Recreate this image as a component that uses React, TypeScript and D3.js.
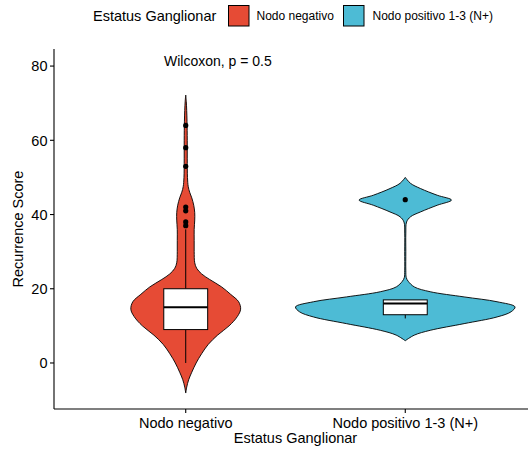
import React from "react";
import * as d3 from "d3";

// Groups and palette
const groups = ["Nodo negativo", "Nodo positivo 1-3 (N+)"];
const fills = ["#E64B35", "#4DBBD5"];
const yTicks = [0, 20, 40, 60, 80];

// Kernel density profiles (score, relative density; 1 = widest violin)
const negScores = [-8.1, -6.5, -4.5, -2.5, 0, 2.5, 5, 7.5, 10, 12.5, 14.5, 16.5, 18.5, 20.5, 22.5, 24, 25.5, 27, 30, 33, 36, 38.5, 40.5, 42.5, 44.5, 46, 47.5, 50, 55, 60, 65, 68, 70.5, 72.2];
const negDensity = [0, 0.009, 0.027, 0.055, 0.095, 0.145, 0.205, 0.29, 0.395, 0.47, 0.5, 0.482, 0.409, 0.327, 0.218, 0.145, 0.1, 0.082, 0.077, 0.077, 0.077, 0.082, 0.082, 0.073, 0.055, 0.036, 0.023, 0.016, 0.014, 0.014, 0.012, 0.009, 0.005, 0];
const posScores = [6.0, 7.5, 8.8, 10.6, 12.4, 13.8, 15.1, 16.5, 17.8, 19.2, 20.5, 22.0, 23.0, 25, 30, 35, 38.0, 39.4, 40.7, 42.5, 43.9, 45.2, 47.0, 48.4, 50.0];
const posDensity = [0, 0.082, 0.227, 0.536, 0.836, 0.964, 1, 0.836, 0.536, 0.227, 0.082, 0.027, 0.009, 0.005, 0.005, 0.005, 0.012, 0.048, 0.139, 0.291, 0.421, 0.291, 0.139, 0.048, 0];

// Box plot summaries per group
const q1 = [9, 13];
const median = [15, 16];
const q3 = [20, 17];
const whiskerLow = [0, 12];
const whiskerHigh = [36, 17];
const negOutliers = [37, 38, 41, 42, 53, 58, 64];
const posOutliers = [44];

const W = 528;
const H = 450;
const FONT = "'Liberation Sans', Arial, Helvetica, sans-serif";

export default function App() {
  const panelLeft = 54;
  const panelRight = 537;
  const panelTop = 49;
  const panelBottom = 409;

  const x = d3.scaleLinear().domain([0.4, 2.6]).range([panelLeft, panelRight]);
  const y = d3.scaleLinear().domain([-12.4, 84.6]).range([panelBottom, panelTop]);
  const step = x(2) - x(1);
  const halfWidth = d3.scaleLinear().domain([0, 1]).range([0, step * 0.5]);
  const boxHalf = step * 0.1;

  const profiles = [
    negScores.map((v, i) => ({ v, d: negDensity[i] })),
    posScores.map((v, i) => ({ v, d: posDensity[i] })),
  ];
  const outliers = [negOutliers, posOutliers];

  const violin = (cx: number) =>
    d3
      .area<{ v: number; d: number }>()
      .y((p) => y(p.v))
      .x0((p) => cx - halfWidth(p.d))
      .x1((p) => cx + halfWidth(p.d))
      .curve(d3.curveCatmullRom.alpha(0.5));

  return (
    <svg
      width={W}
      height={H}
      style={{ position: "absolute", left: 0, top: 0, background: "#fff" }}
      fontFamily={FONT}
    >
      {/* legend */}
      <text x={93} y={21} fontSize={14.5} fill="#000">
        Estatus Ganglionar
      </text>
      {groups.map((g, i) => {
        const kx = [228.5, 343.5][i];
        const lx = [256.5, 372.5][i];
        return (
          <g key={g}>
            <rect x={kx} y={5.5} width={20.5} height={20.5} fill={fills[i]} stroke="#000" strokeWidth={1} />
            <text x={lx} y={20} fontSize={12} fill="#000">
              {g}
            </text>
          </g>
        );
      })}

      {/* violins, boxes and outliers */}
      {groups.map((g, i) => {
        const cx = x(i + 1);
        return (
          <g key={g}>
            <path d={violin(cx)(profiles[i]) ?? ""} fill={fills[i]} stroke="#000" strokeWidth={0.9} />
            <line x1={cx} x2={cx} y1={y(whiskerLow[i])} y2={y(q1[i])} stroke="#000" strokeWidth={1} />
            <line x1={cx} x2={cx} y1={y(whiskerHigh[i])} y2={y(q3[i])} stroke="#000" strokeWidth={1} />
            <rect
              x={cx - boxHalf}
              y={y(q3[i])}
              width={boxHalf * 2}
              height={y(q1[i]) - y(q3[i])}
              fill="#fff"
              stroke="#000"
              strokeWidth={1}
            />
            <line
              x1={cx - boxHalf}
              x2={cx + boxHalf}
              y1={y(median[i])}
              y2={y(median[i])}
              stroke="#000"
              strokeWidth={2}
            />
            {outliers[i].map((o, j) => (
              <circle key={j} cx={cx} cy={y(o)} r={2.6} fill="#000" />
            ))}
          </g>
        );
      })}

      {/* comparison label */}
      <text x={164} y={66} fontSize={14} fill="#000">
        Wilcoxon, p = 0.5
      </text>

      {/* y axis */}
      <line x1={panelLeft} x2={panelLeft} y1={panelTop} y2={panelBottom} stroke="#000" strokeWidth={1.1} />
      {yTicks.map((t) => (
        <g key={t}>
          <line x1={panelLeft - 4} x2={panelLeft} y1={y(t)} y2={y(t)} stroke="#000" strokeWidth={1.1} />
          <text x={panelLeft - 6.5} y={y(t)} dy="0.36em" textAnchor="end" fontSize={14.5} fill="#000">
            {t}
          </text>
        </g>
      ))}
      <text
        transform={`translate(23,${(panelTop + panelBottom) / 2}) rotate(-90)`}
        textAnchor="middle"
        fontSize={14.5}
        fill="#000"
      >
        Recurrence Score
      </text>

      {/* x axis */}
      <line x1={panelLeft} x2={panelRight} y1={panelBottom} y2={panelBottom} stroke="#000" strokeWidth={1.1} />
      {groups.map((g, i) => (
        <g key={g}>
          <line x1={x(i + 1)} x2={x(i + 1)} y1={panelBottom} y2={panelBottom + 4} stroke="#000" strokeWidth={1.1} />
          <text x={x(i + 1)} y={428} textAnchor="middle" fontSize={14.5} fill="#000">
            {g}
          </text>
        </g>
      ))}
      <text x={(panelLeft + panelRight) / 2} y={443} textAnchor="middle" fontSize={14.5} fill="#000">
        Estatus Ganglionar
      </text>
    </svg>
  );
}
